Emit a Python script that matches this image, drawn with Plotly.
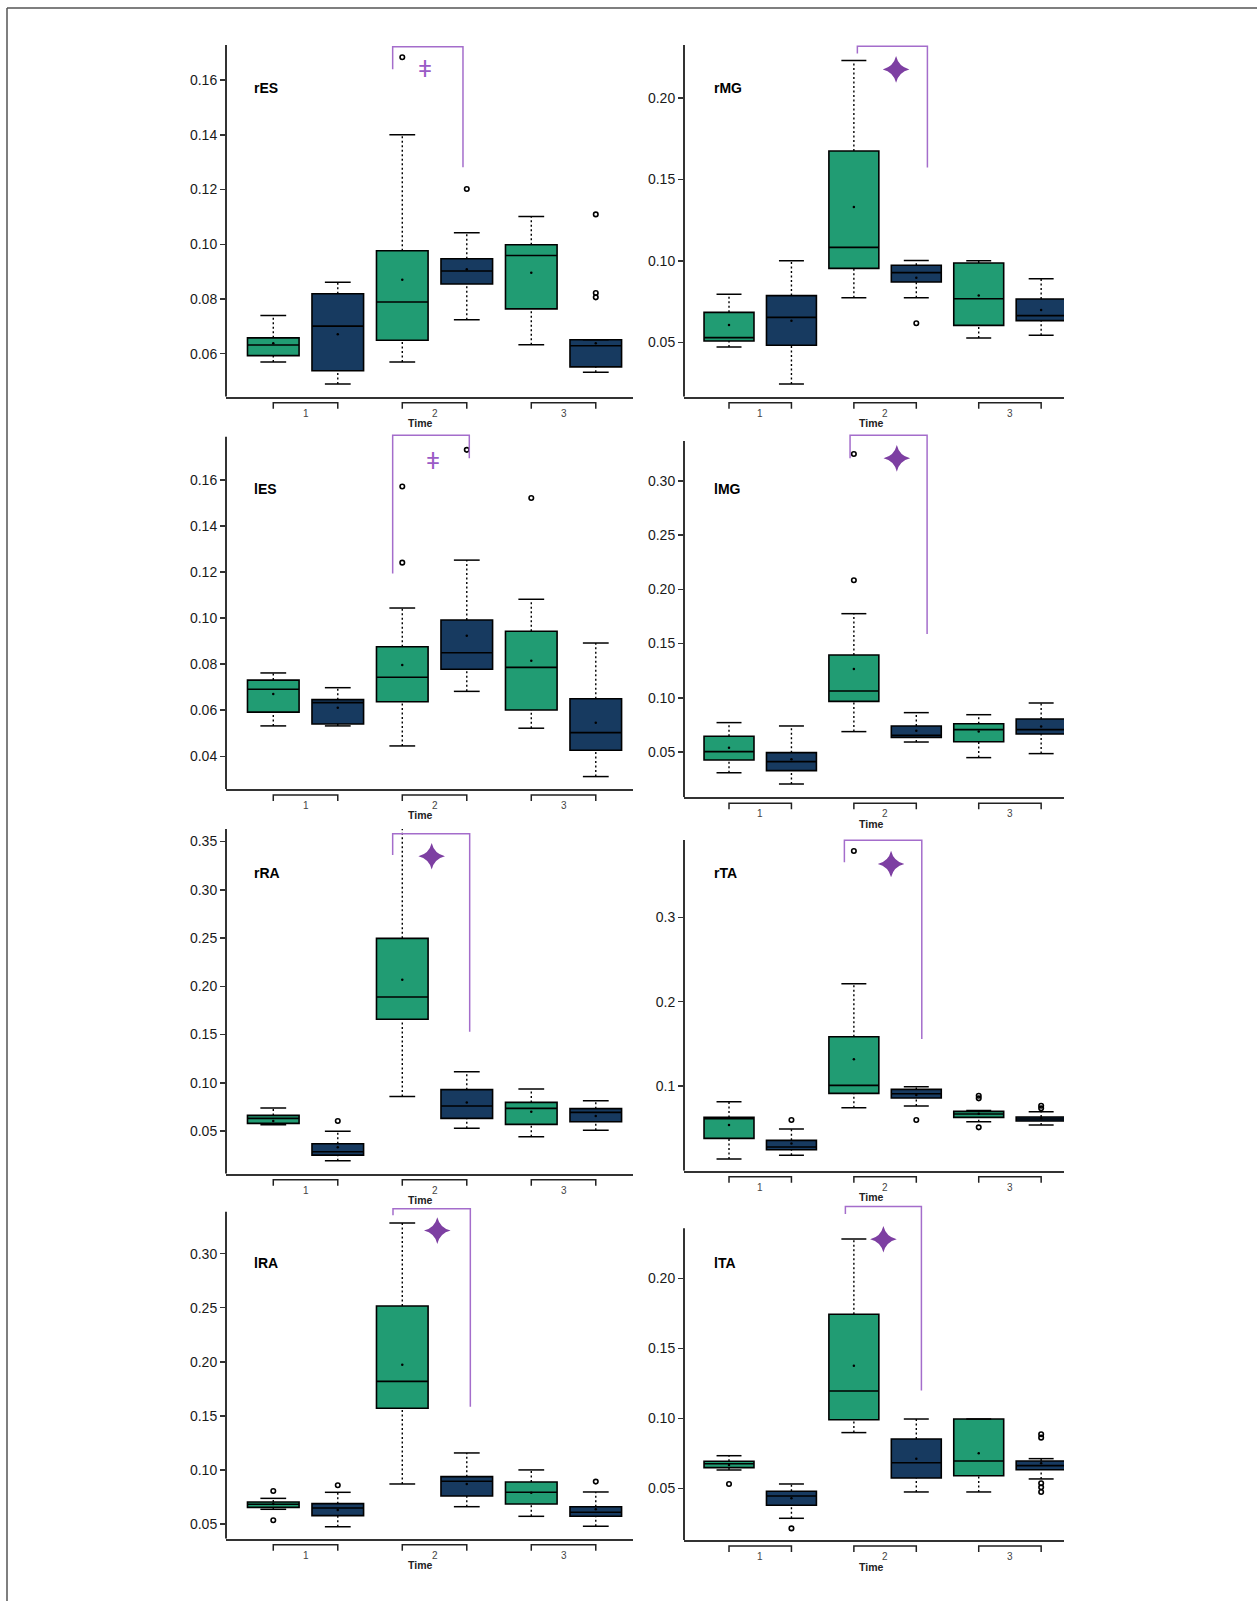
import plotly.graph_objects as go

W, H = 1257, 1601

# ---------------- data ----------------
panels = ["rES", "rMG", "lES", "lMG", "rRA", "rTA", "lRA", "lTA"]
time_labels = ["1", "2", "3"]
axis_title = "Time"
box_pos = [1, 2, 3, 4, 5, 6]          # green/blue pair per time point
box_group = ["g", "b", "g", "b", "g", "b"]

lower = [
    [0.0570, 0.0489, 0.0570, 0.0724, 0.0633, 0.0532],
    [0.0471, 0.0244, 0.0774, 0.0774, 0.0527, 0.0543],
    [0.0532, 0.0532, 0.0445, 0.0682, 0.0522, 0.0312],
    [0.0309, 0.0205, 0.0688, 0.0592, 0.0448, 0.0485],
    [0.0566, 0.0192, 0.0859, 0.0528, 0.0441, 0.0507],
    [0.0134, 0.0178, 0.0743, 0.0763, 0.0577, 0.0538],
    [0.0636, 0.0475, 0.0870, 0.0660, 0.0571, 0.0478],
    [0.0631, 0.0286, 0.0898, 0.0474, 0.0474, 0.0567],
]
q1 = [
    [0.0593, 0.0538, 0.0649, 0.0855, 0.0764, 0.0552],
    [0.0508, 0.0482, 0.0954, 0.0870, 0.0604, 0.0633],
    [0.0592, 0.0540, 0.0637, 0.0778, 0.0601, 0.0426],
    [0.0426, 0.0328, 0.0967, 0.0635, 0.0595, 0.0666],
    [0.0579, 0.0251, 0.1658, 0.0631, 0.0569, 0.0597],
    [0.0379, 0.0245, 0.0913, 0.0858, 0.0628, 0.0585],
    [0.0654, 0.0577, 0.1570, 0.0759, 0.0685, 0.0571],
    [0.0648, 0.0379, 0.0990, 0.0574, 0.0590, 0.0633],
]
median = [
    [0.0632, 0.0701, 0.0789, 0.0902, 0.0959, 0.0629],
    [0.0529, 0.0653, 0.1083, 0.0928, 0.0768, 0.0664],
    [0.0691, 0.0633, 0.0743, 0.0850, 0.0786, 0.0503],
    [0.0503, 0.0411, 0.1063, 0.0654, 0.0706, 0.0706],
    [0.0631, 0.0286, 0.1889, 0.0759, 0.0735, 0.0694],
    [0.0613, 0.0277, 0.1008, 0.0909, 0.0668, 0.0609],
    [0.0682, 0.0648, 0.1819, 0.0895, 0.0793, 0.0608],
    [0.0676, 0.0445, 0.1195, 0.0683, 0.0695, 0.0662],
]
q3 = [
    [0.0658, 0.0819, 0.0976, 0.0947, 0.0998, 0.0651],
    [0.0684, 0.0787, 0.1675, 0.0973, 0.0987, 0.0766],
    [0.0731, 0.0646, 0.0876, 0.0992, 0.0943, 0.0650],
    [0.0645, 0.0494, 0.1395, 0.0740, 0.0761, 0.0804],
    [0.0662, 0.0369, 0.2497, 0.0929, 0.0797, 0.0732],
    [0.0628, 0.0356, 0.1585, 0.0960, 0.0700, 0.0632],
    [0.0703, 0.0688, 0.2516, 0.0938, 0.0888, 0.0660],
    [0.0693, 0.0479, 0.1743, 0.0852, 0.0995, 0.0695],
]
upper = [
    [0.0740, 0.0861, 0.1400, 0.1042, 0.1101, 0.0651],
    [0.0795, 0.1001, 0.2231, 0.1003, 0.1001, 0.0891],
    [0.0762, 0.0698, 0.1044, 0.1252, 0.1082, 0.0892],
    [0.0771, 0.0740, 0.1776, 0.0863, 0.0844, 0.0952],
    [0.0738, 0.0497, 0.3700, 0.1115, 0.0935, 0.0814],
    [0.0814, 0.0490, 0.2213, 0.0992, 0.0711, 0.0696],
    [0.0737, 0.0793, 0.3284, 0.1157, 0.1000, 0.0796],
    [0.0733, 0.0531, 0.2281, 0.0995, 0.0995, 0.0712],
]
means = [
    [0.0638, 0.0671, 0.0870, 0.0909, 0.0896, 0.0638],
    [0.0606, 0.0633, 0.1331, 0.0897, 0.0787, 0.0699],
    [0.0671, 0.0611, 0.0797, 0.0924, 0.0815, 0.0546],
    [0.0540, 0.0432, 0.1266, 0.0697, 0.0688, 0.0734],
    [0.0604, 0.0331, 0.2069, 0.0797, 0.0700, 0.0656],
    [0.0538, 0.0320, 0.1316, 0.0893, 0.0672, 0.0617],
    [0.0685, 0.0629, 0.1973, 0.0870, 0.0790, 0.0636],
    [0.0667, 0.0429, 0.1376, 0.0712, 0.0750, 0.0679],
]
outlier_box = [
    [3, 4, 6, 6, 6],
    [4],
    [3, 3, 4, 5],
    [3, 3],
    [2],
    [2, 3, 4, 5, 5, 5, 6, 6],
    [1, 1, 2, 6],
    [1, 2, 6, 6, 6, 6, 6],
]
outlier_val = [
    [0.1683, 0.1202, 0.1109, 0.0822, 0.0806],
    [0.0617],
    [0.1572, 0.1241, 0.1731, 0.1522],
    [0.3249, 0.2084],
    [0.0604],
    [0.0597, 0.3787, 0.0597, 0.0885, 0.0854, 0.0510, 0.0767, 0.0735],
    [0.0805, 0.0534, 0.0858, 0.0892],
    [0.0531, 0.0214, 0.0886, 0.0862, 0.0536, 0.0507, 0.0474],
]

# y axis extent (value at x-axis line, value at top of y-axis line) and ticks
y_bottom = [0.0443, 0.0166, 0.0258, 0.0082, 0.0058, -0.0004, 0.0364, 0.0131]
y_top = [0.1728, 0.2326, 0.1788, 0.3369, 0.3630, 0.3917, 0.3388, 0.2357]
y_ticks = [
    [0.06, 0.08, 0.10, 0.12, 0.14, 0.16],
    [0.05, 0.10, 0.15, 0.20],
    [0.04, 0.06, 0.08, 0.10, 0.12, 0.14, 0.16],
    [0.05, 0.10, 0.15, 0.20, 0.25, 0.30],
    [0.05, 0.10, 0.15, 0.20, 0.25, 0.30, 0.35],
    [0.1, 0.2, 0.3],
    [0.05, 0.10, 0.15, 0.20, 0.25, 0.30],
    [0.05, 0.10, 0.15, 0.20],
]
y_tick_dec = [2, 2, 2, 2, 2, 1, 2, 2]

# significance brackets (time 2 comparison)
br_x0 = [2.851, 3.056, 2.851, 2.939, 2.851, 2.848, 2.856, 2.864]
br_x1 = [3.941, 4.178, 4.039, 4.173, 4.045, 4.088, 4.055, 4.082]
br_top = [0.1722, 0.2319, 0.1794, 0.3421, 0.3582, 0.3913, 0.3416, 0.2512]
br_left_end = [0.1639, 0.2274, 0.1194, 0.3209, 0.3361, 0.3652, 0.3354, 0.2460]
br_right_end = [0.1281, 0.1574, 0.1694, 0.1589, 0.1530, 0.1557, 0.1585, 0.1198]
sig_kind = ["dagger", "star", "dagger", "star", "star", "star", "star", "star"]
sig_x = [3.352, 3.676, 3.481, 3.688, 3.456, 3.596, 3.543, 3.473]
sig_y = [0.1643, 0.2176, 0.1684, 0.3209, 0.3347, 0.3632, 0.3213, 0.2279]

# ---------------- layout geometry (pixels) ----------------
col_left = [226, 684]
col_right = [633, 1064]
col_xrange = [[0.267, 6.577], [0.279, 6.366]]
axis_bottom_px = [396.7, 396.7, 789.0, 797.3, 1173.7, 1170.7, 1538.7, 1540.0]
axis_top_px = [45.0, 45.0, 436.7, 441.0, 829.0, 840.0, 1211.7, 1228.3]
label_y_px = [88, 88, 489, 489, 872.7, 872.7, 1263.3, 1263.3]
label_dx = [26, 28]

GREEN = "#219C73"
BLUE = "#173A60"
AXCOL = "#333333"
PURPLE_LINE = "#A46DCB"
PURPLE_STAR = "#7D3FA2"
FONT = "Liberation Sans Narrow, Arial Narrow, Liberation Sans, Arial, sans-serif"

fig = go.Figure()
shapes = []
annotations = []


def px_x(x):
    return x / W


def px_y(y):
    return 1 - y / H


for i, name in enumerate(panels):
    col = i % 2
    sfx = "" if i == 0 else str(i + 1)
    xr, yr = "x" + sfx, "y" + sfx
    left, right = col_left[col], col_right[col]
    bot_px, top_px = axis_bottom_px[i], axis_top_px[i]
    ybot, ytop = y_bottom[i], y_top[i]
    scale = (bot_px - top_px) / (ytop - ybot)
    ext = max(ytop, br_top[i] + 4 / scale)
    dom_top_px = bot_px - (ext - ybot) * scale

    fig.layout["xaxis" + sfx] = dict(
        domain=[px_x(left), px_x(right)], range=col_xrange[col], anchor=yr,
        showline=True, linecolor=AXCOL, linewidth=2, showticklabels=False,
        ticks="", showgrid=False, zeroline=False, fixedrange=True)
    fmt = "{:.%df}" % y_tick_dec[i]
    fig.layout["yaxis" + sfx] = dict(
        domain=[px_y(bot_px), px_y(dom_top_px)], range=[ybot, ext], anchor=xr,
        showline=False, tickvals=y_ticks[i], ticktext=[fmt.format(v) for v in y_ticks[i]],
        ticks="outside", ticklen=5, tickwidth=1.5, tickcolor=AXCOL,
        showgrid=False, zeroline=False, fixedrange=True,
        tickfont=dict(family=FONT, size=14, color="#1a1a1a"))

    # y axis line only up to the axis top
    shapes.append(dict(type="line", xref=xr + " domain", yref=yr, x0=0, x1=0,
                       y0=ybot, y1=ytop, line=dict(color=AXCOL, width=2)))

    # boxes
    for j in range(6):
        fig.add_trace(go.Box(
            x=[box_pos[j]], q1=[q1[i][j]], median=[median[i][j]], q3=[q3[i][j]],
            lowerfence=[q1[i][j]], upperfence=[q3[i][j]], width=0.8,
            fillcolor=GREEN if box_group[j] == "g" else BLUE,
            line=dict(color="black", width=1.6), whiskerwidth=0,
            boxpoints=False, xaxis=xr, yaxis=yr, showlegend=False, hoverinfo="skip"))

    # dotted whiskers
    wx, wy, cx, cy = [], [], [], []
    for j in range(6):
        p = box_pos[j]
        wx += [p, p, None, p, p, None]
        wy += [lower[i][j], q1[i][j], None, q3[i][j], upper[i][j], None]
        cx += [p - 0.2, p + 0.2, None, p - 0.2, p + 0.2, None]
        cy += [lower[i][j], lower[i][j], None, upper[i][j], upper[i][j], None]
    fig.add_trace(go.Scatter(x=wx, y=wy, mode="lines", xaxis=xr, yaxis=yr,
                             line=dict(color="black", width=1.4, dash="2px,2.5px"),
                             showlegend=False, hoverinfo="skip"))
    fig.add_trace(go.Scatter(x=cx, y=cy, mode="lines", xaxis=xr, yaxis=yr,
                             line=dict(color="black", width=1.5),
                             showlegend=False, hoverinfo="skip"))
    # means
    fig.add_trace(go.Scatter(x=box_pos, y=means[i], mode="markers", xaxis=xr, yaxis=yr,
                             marker=dict(color="black", size=2.5),
                             showlegend=False, hoverinfo="skip"))
    # outliers
    fig.add_trace(go.Scatter(x=outlier_box[i], y=outlier_val[i], mode="markers",
                             xaxis=xr, yaxis=yr,
                             marker=dict(symbol="circle-open", color="black", size=4.5,
                                         line=dict(color="black", width=1.6)),
                             showlegend=False, hoverinfo="skip"))

    # significance bracket
    path = "M {a},{b} L {a},{c} L {d},{c} L {d},{e}".format(
        a=br_x0[i], b=br_left_end[i], c=br_top[i], d=br_x1[i], e=br_right_end[i])
    shapes.append(dict(type="path", xref=xr, yref=yr, path=path,
                       line=dict(color=PURPLE_LINE, width=1.5)))
    if sig_kind[i] == "star":
        fig.add_trace(go.Scatter(x=[sig_x[i]], y=[sig_y[i]], mode="markers",
                                 xaxis=xr, yaxis=yr,
                                 marker=dict(symbol="star-diamond", size=19, color=PURPLE_STAR,
                                             line=dict(width=0)),
                                 showlegend=False, hoverinfo="skip"))
    else:
        annotations.append(dict(x=sig_x[i], y=sig_y[i], xref=xr, yref=yr, text="ǂ",
                                showarrow=False, yanchor="middle",
                                font=dict(family="Liberation Sans, DejaVu Sans", size=24,
                                          color="#9A5CC6")))

    # group brackets under the x axis
    for k in range(3):
        x0, x1 = box_pos[2 * k], box_pos[2 * k + 1]
        ya, yb = px_y(bot_px + 6), px_y(bot_px + 12)
        shapes.append(dict(type="path", xref=xr, yref="paper",
                           path="M {a},{b} L {a},{c} L {d},{c} L {d},{b}".format(
                               a=x0, b=yb, c=ya, d=x1),
                           line=dict(color="#222222", width=1.5)))
        annotations.append(dict(x=(x0 + x1) / 2, y=px_y(bot_px + 16.5), xref=xr, yref="paper",
                                text=time_labels[k], showarrow=False, yanchor="middle",
                                font=dict(family=FONT, size=10, color="#444444")))
    annotations.append(dict(x=3.275, y=px_y(bot_px + 26.5), xref=xr, yref="paper",
                            text=axis_title, showarrow=False, yanchor="middle",
                            font=dict(family=FONT, size=10.5, color="#222222", weight="bold")))
    # panel label
    annotations.append(dict(x=px_x(left + label_dx[col]), y=px_y(label_y_px[i]),
                            xref="paper", yref="paper", text=name, showarrow=False,
                            xanchor="left", yanchor="middle",
                            font=dict(family=FONT, size=14, color="black", weight="bold")))

# outer frame (top and left edge)
shapes.append(dict(type="line", xref="paper", yref="paper", x0=px_x(7), x1=1,
                   y0=px_y(8), y1=px_y(8), line=dict(color="#555555", width=1.5)))
shapes.append(dict(type="line", xref="paper", yref="paper", x0=px_x(7), x1=px_x(7),
                   y0=px_y(8), y1=0, line=dict(color="#555555", width=1.5)))

fig.update_layout(width=W, height=H, autosize=False,
                  margin=dict(l=0, r=0, t=0, b=0),
                  paper_bgcolor="white", plot_bgcolor="white",
                  shapes=shapes, annotations=annotations,
                  boxmode="overlay", hovermode=False, showlegend=False)

fig.write_html("out.html", config={"displayModeBar": False, "staticPlot": True},
               post_script="document.body.style.margin='0px';document.body.style.padding='0px';")
